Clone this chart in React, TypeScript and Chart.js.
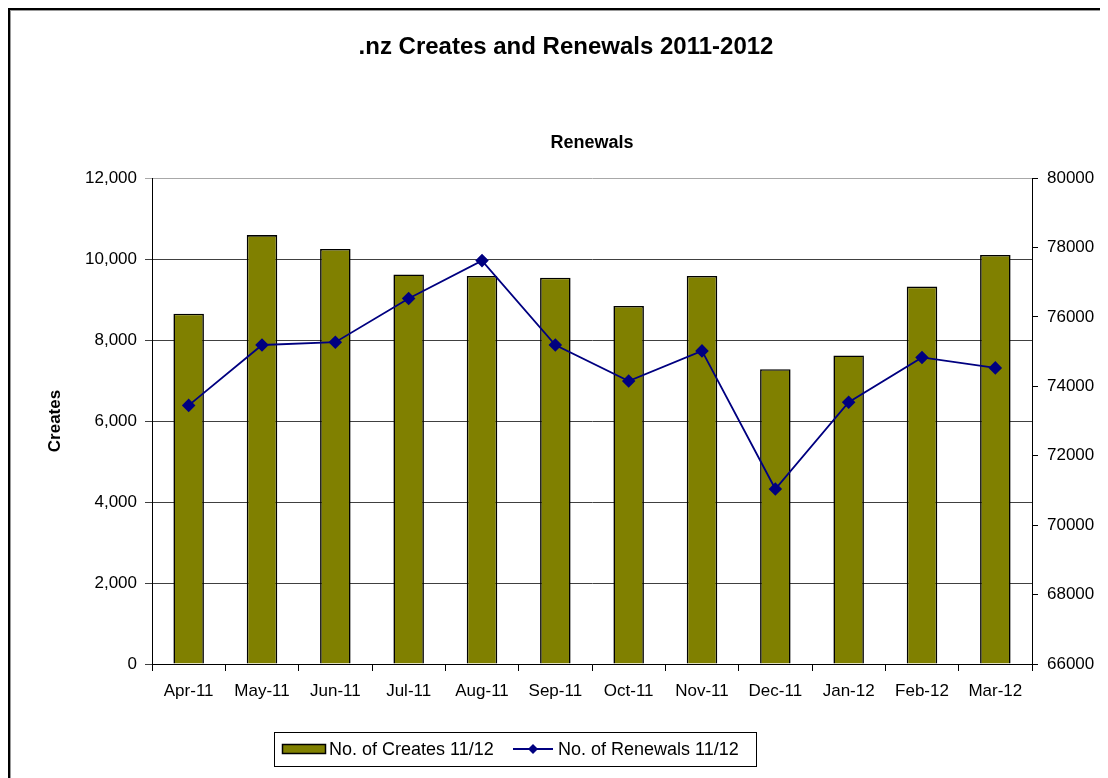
import React, { useEffect, useRef } from "react";
import { Chart, registerables } from "chart.js";

Chart.register(...registerables);

const months = ["Apr-11", "May-11", "Jun-11", "Jul-11", "Aug-11", "Sep-11", "Oct-11", "Nov-11", "Dec-11", "Jan-12", "Feb-12", "Mar-12"];
const creates = [8650, 10590, 10250, 9620, 9580, 9540, 8840, 9580, 7280, 7620, 9320, 10100];
const renewals = [73450, 75190, 75270, 76530, 77620, 75190, 74150, 75020, 71040, 73540, 74830, 74530];

const mainTitle = ".nz Creates and Renewals 2011-2012";
const subTitle = "Renewals";
const leftAxisTitle = "Creates";
const createsLabel = "No. of Creates 11/12";
const renewalsLabel = "No. of Renewals 11/12";

const FONT = "'Liberation Sans', Arial, sans-serif";
const W = 1116;
const H = 800;
const PLOT_L = 144;
const PLOT_R = 1024;
const PLOT_T = 170;
const PLOT_B = 656;

const decorPlugin = {
  id: "decor",
  afterDraw(chart: any) {
    const ctx = chart.ctx;
    ctx.save();
    // outer frame
    ctx.strokeStyle = "#000";
    ctx.lineWidth = 2;
    ctx.strokeRect(1, 1, W + 20, H + 20);
    ctx.strokeStyle = "#999";
    ctx.lineWidth = 1;
    ctx.strokeRect(2.5, 2.5, W + 20, H + 20);

    ctx.fillStyle = "#000";
    ctx.textAlign = "center";
    ctx.textBaseline = "middle";
    ctx.font = `bold 24px ${FONT}`;
    ctx.fillText(mainTitle, W / 2, 39);
    ctx.font = `bold 18px ${FONT}`;
    const ca = chart.chartArea;
    ctx.fillText(subTitle, (ca.left + ca.right) / 2, 135);

    // left axis title
    ctx.save();
    ctx.translate(47, (ca.top + ca.bottom) / 2);
    ctx.rotate(-Math.PI / 2);
    ctx.font = `bold 17px ${FONT}`;
    ctx.fillText(leftAxisTitle, 0, 0);
    ctx.restore();

    // legend
    const lx = 266, ly = 724, lw = 482, lh = 34;
    ctx.fillStyle = "#fff";
    ctx.fillRect(lx, ly, lw, lh);
    ctx.strokeStyle = "#000";
    ctx.lineWidth = 1;
    ctx.strokeRect(lx + 0.5, ly + 0.5, lw, lh);
    const cy = ly + lh / 2;
    ctx.fillStyle = "#808000";
    ctx.fillRect(274, cy - 4.5, 43, 9);
    ctx.strokeStyle = "#000";
    ctx.lineWidth = 1.5;
    ctx.strokeRect(274.5, cy - 4.5, 43, 9);
    ctx.fillStyle = "#000";
    ctx.textAlign = "left";
    ctx.font = `18px ${FONT}`;
    ctx.fillText(createsLabel, 321, cy + 1);
    ctx.strokeStyle = "#000080";
    ctx.lineWidth = 1.8;
    ctx.beginPath();
    ctx.moveTo(505, cy);
    ctx.lineTo(545, cy);
    ctx.stroke();
    ctx.fillStyle = "#000080";
    ctx.beginPath();
    ctx.moveTo(525, cy - 5);
    ctx.lineTo(530, cy);
    ctx.lineTo(525, cy + 5);
    ctx.lineTo(520, cy);
    ctx.closePath();
    ctx.fill();
    ctx.fillStyle = "#000";
    ctx.fillText(renewalsLabel, 550, cy + 1);
    ctx.restore();
  },
};

export default function App() {
  const ref = useRef<HTMLCanvasElement>(null);
  useEffect(() => {
    if (!ref.current) return;
    const chart = new Chart(ref.current, {
      data: {
        labels: months,
        datasets: [
          {
            type: "line",
            label: renewalsLabel,
            data: renewals,
            yAxisID: "y1",
            borderColor: "#000080",
            backgroundColor: "#000080",
            borderWidth: 1.8,
            pointStyle: "rectRot",
            pointRadius: 5.5,
            pointBackgroundColor: "#000080",
            pointBorderColor: "#000080",
            tension: 0,
            order: 1,
          },
          {
            type: "bar",
            label: createsLabel,
            data: creates,
            yAxisID: "y",
            backgroundColor: "#808000",
            borderColor: "#000",
            borderWidth: 1.6,
            barPercentage: 0.416,
            categoryPercentage: 1,
            order: 2,
          },
        ],
      } as any,
      options: {
        responsive: false,
        animation: false,
        layout: { padding: { top: PLOT_T, left: 0, right: 0, bottom: 0 } },
        plugins: { legend: { display: false }, title: { display: false }, tooltip: { enabled: false } },
        scales: {
          x: {
            offset: true,
            grid: { offset: true, drawOnChartArea: false, tickLength: 7, color: "#000" },
            border: { color: "#000", width: 1 },
            ticks: { color: "#000", font: { family: FONT, size: 17 }, padding: 10, maxRotation: 0, autoSkip: false },
            afterFit: (s: any) => { s.height = H - PLOT_B; },
          },
          y: {
            position: "left",
            min: 0,
            max: 12000,
            grid: {
              tickLength: 7,
              color: (c: any) => (c.tick && c.tick.value === 12000 ? "#a8a8a8" : "#404040"),
            },
            border: { color: "#000", width: 1 },
            ticks: {
              stepSize: 2000,
              color: "#000",
              font: { family: FONT, size: 17 },
              padding: 8,
              callback: (v: any) => Number(v).toLocaleString("en-US"),
            },
            afterFit: (s: any) => { s.width = PLOT_L; },
          },
          y1: {
            position: "right",
            min: 66000,
            max: 80000,
            grid: { drawOnChartArea: false, tickLength: 6, color: "#000" },
            border: { color: "#000", width: 1 },
            ticks: {
              stepSize: 2000,
              color: "#000",
              font: { family: FONT, size: 17 },
              padding: 9,
              callback: (v: any) => String(v),
            },
            afterFit: (s: any) => { s.width = W - PLOT_R; },
          },
        },
      },
      plugins: [decorPlugin],
    });
    return () => chart.destroy();
  }, []);
  return (
    <div style={{ width: 1100, height: 770, overflow: "hidden", position: "relative" }}>
      <canvas ref={ref} width={W} height={H} style={{ display: "block", width: W, height: H }} />
    </div>
  );
}
